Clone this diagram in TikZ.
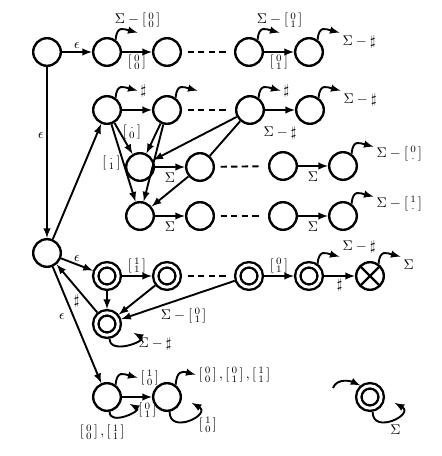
\documentclass[tikz,border=0pt]{standalone}
\usepackage{amssymb}
\usepackage{amsmath}
\usepackage{tikz}
\usetikzlibrary{positioning, arrows}
\newcommand{\bv}[2]{\left[\begin{smallmatrix}#1\\#2\end{smallmatrix}\right]}

\begin{document}
\begin{tikzpicture}[x=0.025cm, y=0.025cm, >=latex,
    st/.style={circle, draw, line width=1.7pt, minimum size=0.69cm, inner sep=0pt},
    acc/.style={st, double, double distance=2.1pt, minimum size=0.56cm, outer sep=2.7pt},
    dead/.style={st, path picture={\draw[line width=1.7pt]
        (path picture bounding box.south west) -- (path picture bounding box.north east)
        (path picture bounding box.north west) -- (path picture bounding box.south east);}},
    tr/.style={->, line width=1.35pt},
    gap/.style={line width=1.35pt, dash pattern=on 4.5pt off 3pt, shorten <=4pt, shorten >=4pt},
    lab/.style={inner sep=1.5pt},
    hl/.style={out=85, in=165, looseness=1.6},
    ll/.style={out=-90, in=-30, looseness=1.7},
    lL/.style={out=-90, in=-30, looseness=2.5}]
            \useasboundingbox (0,0) rectangle (442,456);
            % states
            \node[st] (S0) at (47,404) {};
            \node[st] (A1) at (107,404) {};
            \node[st] (A2) at (167,404) {};
            \node[st] (A3) at (249,404) {};
            \node[st] (A4) at (309,404) {};
            \node[st] (B1) at (107,346) {};
            \node[st] (B2) at (167,346) {};
            \node[st] (B3) at (250,346) {};
            \node[st] (B4) at (310,346) {};
            \node[st] (C1) at (140,289) {};
            \node[st] (C2) at (200,289) {};
            \node[st] (C3) at (283,290) {};
            \node[st] (C4) at (343,290) {};
            \node[st] (D1) at (140,240) {};
            \node[st] (D2) at (200,240) {};
            \node[st] (D3) at (283,240) {};
            \node[st] (D4) at (343,240) {};
            \node[st] (S1) at (47,203) {};
            \node[acc] (E1) at (107,180) {};
            \node[acc] (E2) at (167,180) {};
            \node[acc] (E3) at (249,180) {};
            \node[acc] (E4) at (309,180) {};
            \node[dead] (X) at (370,180) {};
            \node[acc] (F) at (107,132) {};
            \node[st] (G) at (107,59) {};
            \node[st] (H) at (167,59) {};
            \node[acc] (Z) at (370,59) {};
            % first row
            \draw[tr] (S0) -- node[above, lab] {$\epsilon$} (A1);
            \draw[tr] (A1) -- node[below, lab] {$\bv00$} (A2);
            \draw[gap] (A2) -- (A3);
            \draw[tr] (A3) -- node[below, lab] {$\bv01$} (A4);
            \draw[tr] (A1.55) to[hl] ++(22,7) node[above=1.5pt, lab] {$\Sigma-\bv00$};
            \draw[tr] (A3.55) to[hl] ++(22,7) node[above=1.5pt, lab] {$\Sigma-\bv01$};
            \draw[tr] (A4.55) to[hl] ++(22,7) node[below right, lab] {$\Sigma-\sharp$};
            \draw[tr] (S0) -- node[left, pos=0.4, lab] {$\epsilon$} (S1);
            % second block
            \draw[tr] (S1) -- (B1);
            \draw[tr] (B1) -- (B2);
            \draw[gap] (B2) -- (B3);
            \draw[tr] (B3) -- node[below=10pt, lab] {$\Sigma-\sharp$} (B4);
            \draw[tr] (B1.55) to[hl] ++(22,7) node[right, lab] {$\sharp$};
            \draw[tr] (B2.55) to[hl] ++(22,7);
            \draw[tr] (B3.55) to[hl] ++(22,7) node[right, lab] {$\sharp$};
            \draw[tr] (B4.55) to[hl] ++(22,7) node[below right, lab] {$\Sigma-\sharp$};
            \draw[tr] (B1) -- node[right, pos=0.3, lab] {$\bv{\cdot}{0}$} (C1);
            \draw[tr] (B1) -- node[left, pos=0.5, lab] {$\bv{\cdot}{1}$} (D1);
            \draw[tr] (B2) -- (C1);
            \draw[tr] (B2) -- (D1);
            \draw[tr] (B3) -- (C1);
            \draw[line width=1.35pt] (B3) -- (C2);
            \draw[tr] (C2) -- (D1);
            \draw[tr] (C1) -- node[below=2pt, lab] {$\Sigma$} (C2);
            \draw[gap] (C2) -- (C3);
            \draw[tr] (C3) -- node[below=2pt, lab] {$\Sigma$} (C4);
            \draw[tr] (C4.55) to[hl] ++(22,7) node[right, yshift=-5pt, lab] {$\Sigma-\bv{0}{\cdot}$};
            \draw[tr] (D1) -- node[below=2pt, lab] {$\Sigma$} (D2);
            \draw[gap] (D2) -- (D3);
            \draw[tr] (D3) -- node[below=2pt, lab] {$\Sigma$} (D4);
            \draw[tr] (D4.55) to[hl] ++(22,7) node[right, yshift=-5pt, lab] {$\Sigma-\bv{1}{\cdot}$};
            % third block
            \draw[tr] (S1) -- node[above, lab] {$\epsilon$} (E1);
            \draw[tr] (E1) -- node[above, lab] {$\bv11$} (E2);
            \draw[gap] (E2) -- (E3);
            \draw[tr] (E3) -- node[above, lab] {$\bv01$} (E4);
            \draw[tr] (E4) -- node[below, lab] {$\sharp$} (X);
            \draw[tr] (E4.55) to[hl] ++(22,7) node[above right, lab] {$\Sigma-\sharp$};
            \draw[tr] (X.55) to[hl] ++(22,7) node[below right, lab] {$\Sigma$};
            \draw[tr] (E1) -- (F);
            \draw[tr] (E2) -- (F);
            \draw[tr] (E3) -- node[below=5pt, pos=0.45, lab] {$\Sigma-\bv01$} (F);
            \draw[tr] (F.-80) to[ll] ++(24,6) node[below right=2pt, lab] {$\Sigma-\sharp$};
            \draw[tr] (F) -- node[below left, pos=0.4, inner sep=0.5pt] {$\sharp$} (S1);
            % fourth block
            \draw[tr] (S1) -- node[left=4pt, pos=0.43, lab] {$\epsilon$} (G);
            \draw[tr] (G) -- node[below=2pt, pos=0.85, lab] {$\bv01$} (H);
            \draw[tr] (G.55) to[hl] ++(22,7) node[right, lab] {$\bv10$};
            \draw[tr] (G.-80) to[ll] node[pos=0.3, below=3pt, xshift=-10pt, lab] {$\bv00,\bv11$} ++(20,8);
            \draw[tr] (H.55) to[hl] ++(20,10) node[right, lab] {$\bv00,\bv01,\bv11$};
            \draw[tr] (H.-80) to[lL] node[pos=0.7, below right, lab] {$\bv10$} ++(22,9);
            % universal state
            \coordinate (Zin) at (333,68);
            \draw[tr] (Zin) to[out=70, in=155] (Z.130);
            \draw[tr] (Z.-80) to[lL] node[pos=0.6, below=3pt, lab] {$\Sigma$} ++(22,9);
        \end{tikzpicture}
\end{document}
